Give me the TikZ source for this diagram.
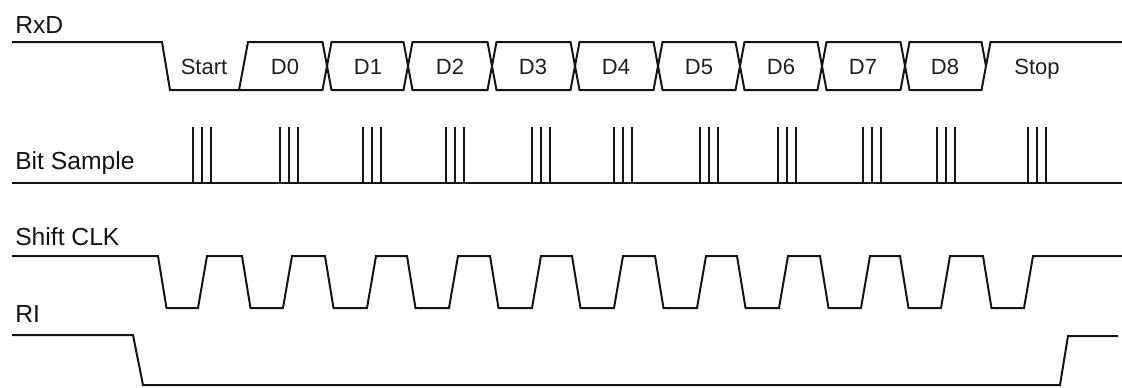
\documentclass[tikz,border=0pt]{standalone}
\usepackage{fontspec}
\setmainfont{Liberation Sans}

\begin{document}
\begin{tikzpicture}[
  x=0.75pt, y=-0.75pt,
  wave/.style={line width=1.5pt, draw=black!92, line join=miter},
  rowlabel/.style={font=\fontsize{18.5}{22}\selectfont, text=black!92, anchor=base west, inner sep=0pt},
  bitlabel/.style={font=\fontsize{16.5}{20}\selectfont, text=black!88, anchor=base, inner sep=0pt}
]

\useasboundingbox (0,0) rectangle (1122,387);

\node[rowlabel] (rxd) at (15,33) {RxD};
\node[rowlabel] (bitsample) at (15,169) {Bit Sample};
\node[rowlabel] (shiftclk) at (15,245) {Shift CLK};
\node[rowlabel] (ri) at (15,322) {RI};

\draw[wave] (12,42) -- (162,42) -- (170,90) -- (322.5,90) -- (331.5,42) -- (403.5,42)
  -- (412.5,90) -- (487.5,90) -- (496.5,42) -- (570.5,42) -- (579.5,90) -- (653.5,90)
  -- (662.5,42) -- (735.5,42) -- (744.5,90) -- (817.5,90) -- (826.5,42) -- (900.5,42)
  -- (909.5,90) -- (981.5,90) -- (990.5,42) -- (1122,42);
\draw[wave] (239,90) -- (248,42) -- (322.5,42) -- (331.5,90) -- (403.5,90) -- (412.5,42)
  -- (487.5,42) -- (496.5,90) -- (570.5,90) -- (579.5,42) -- (653.5,42) -- (662.5,90)
  -- (735.5,90) -- (744.5,42) -- (817.5,42) -- (826.5,90) -- (900.5,90) -- (909.5,42)
  -- (981.5,42) -- (986,66);

\node[bitlabel] (start) at (204,74) {Start};
\foreach \x [count=\i from 0] in {285,368,450,533,616,699,781,863,945}
  \node[bitlabel] (d\i) at (\x,74) {D\i};
\node[bitlabel] (stop) at (1037,74) {Stop};

\draw[wave] (12,183) -- (1122,183);
\foreach \s in {202,289,372,455,541,623,709,787,872,946,1037}
  \foreach \d in {-9,0,9}
    \draw[wave] (\s+\d,127) -- (\s+\d,183);

\draw[wave] (12,256)
  \foreach \f/\r in {158/198,242/283,325/367,407/449,490/532,572/614,655/697,737/779,820/861,900/941,983/1024}
    { -- (\f,256) -- (\f+8.5,308) -- (\r,308) -- (\r+9,256) }
  -- (1122,256);

\draw[wave] (12,335) -- (133,335) -- (143,385) -- (1060,385) -- (1068,336) -- (1118,336);

\end{tikzpicture}
\end{document}
